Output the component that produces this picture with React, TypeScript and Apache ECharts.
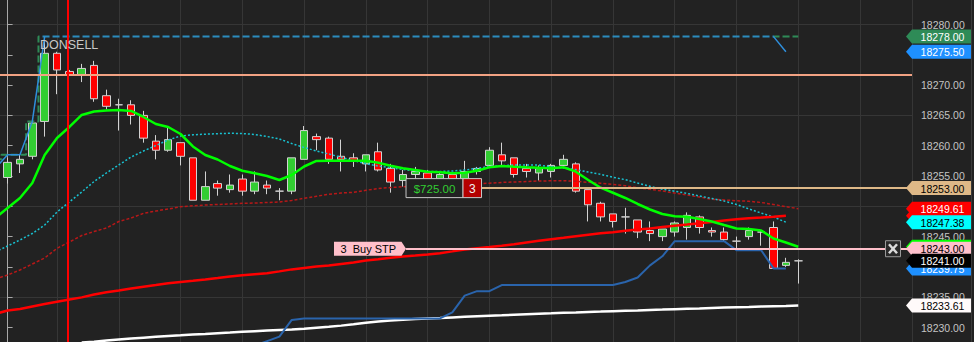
import React, { useEffect, useRef } from "react";
import * as echarts from "echarts";

const W = 974;
const H = 342;
const FONT = "'Liberation Sans', Arial, Helvetica, sans-serif";

// ---------- Candles (bar index 0..64) ----------
const opens = [
  18254.75, 18257, 18258.25, 18264, 18275.25, 18272.25, 18271.75, 18273.25, 18268.25, 18266.75,
  18266.75, 18265, 18260.75, 18259.25, 18260.5, 18258, 18251, 18253.75, 18252.75, 18254.5,
  18252.5, 18253.5, 18252.5, 18252.5, 18257.75, 18261.5, 18261.25, 18258.25, 18258, 18257,
  18259, 18256.25, 18254.25, 18255.25, 18255.5, 18254.25, 18255.25, 18254.25, 18255.75, 18256.75,
  18258.5, 18258, 18256.25, 18255.5, 18255.75, 18256.75, 18257, 18252.75, 18250.5, 18248.75,
  18248.25, 18247.75, 18246, 18245, 18245.75, 18246.5, 18248.25, 18246, 18245.75, 18244.25,
  18245, 18245.75, 18246.5, 18240.25, 18241,
];
const closes = [
  18257.25, 18257.75, 18263.75, 18275.25, 18272.5, 18271.75, 18272.75, 18267.75, 18266.5, 18266.75,
  18265, 18261.25, 18259.25, 18261, 18258.25, 18251, 18253.25, 18253, 18253.5, 18252.5,
  18254, 18253, 18252.5, 18258, 18262.5, 18261, 18257.75, 18257.75, 18257.5, 18258.5,
  18256, 18254, 18255.25, 18255.75, 18254.25, 18255.25, 18254.25, 18255.75, 18256.25, 18259.25,
  18257.5, 18255.25, 18255.75, 18256.25, 18256.75, 18257.75, 18252.5, 18250.25, 18248.25, 18247.5,
  18248.25, 18245.75, 18245.5, 18246.25, 18247.25, 18248.5, 18246.5, 18245.75, 18244.5, 18244.25,
  18246, 18245.75, 18239.75, 18240.75, 18241,
];
const highs = [
  18258, 18258.5, 18264, 18278, 18275.5, 18272.5, 18273.5, 18274, 18269.25, 18267.75,
  18267.5, 18265.75, 18261.75, 18263, 18260.5, 18258, 18255.75, 18254.25, 18255.25, 18255.25,
  18255.75, 18254.25, 18253, 18258, 18263.25, 18262, 18261.5, 18261, 18258.75, 18258.5,
  18260.5, 18257, 18256, 18256.5, 18256, 18255.5, 18255.5, 18257.5, 18256.5, 18259.75,
  18260.5, 18258, 18257, 18256.75, 18257, 18258.5, 18257.25, 18252.75, 18250.75, 18248.75,
  18249.75, 18247.75, 18247.5, 18246.25, 18247.5, 18249, 18248.5, 18246.5, 18246.5, 18245,
  18246.5, 18246, 18247.5, 18241.5, 18241.25,
];
const lows = [
  18253.75, 18255.5, 18257.75, 18261.5, 18268.5, 18271.5, 18270.5, 18267.25, 18266, 18262.5,
  18263.5, 18260.5, 18257.75, 18259, 18256.75, 18251, 18251, 18251.75, 18252.25, 18251.75,
  18252, 18252, 18251, 18252, 18257.75, 18259.25, 18257, 18255.75, 18256.5, 18255.75,
  18255.75, 18252.25, 18253.25, 18254, 18253.5, 18253.5, 18253.5, 18253.5, 18255.25, 18256.5,
  18256.5, 18254.75, 18254.75, 18254.25, 18254.75, 18256.5, 18252.25, 18247.5, 18247.5, 18246.5,
  18245.5, 18244.75, 18244.25, 18244.25, 18245, 18244.5, 18245.5, 18245, 18244.25, 18242.75,
  18244.5, 18243.5, 18239.75, 18240, 18237.25,
];

// ---------- Indicators (first value at bar index -1) ----------
const IND_START = -1;
const fastMa = [
  18248.07,
  18249.72, 18251.37, 18253.84, 18258.47, 18261.27, 18263.09, 18265.07, 18265.64, 18265.81, 18265.89,
  18265.73, 18264.74, 18263.58, 18263.09, 18261.93, 18259.87, 18258.47, 18257.72, 18256.65, 18255.87,
  18255.45, 18255.0, 18254.34, 18255.17, 18256.57, 18257.48, 18257.52, 18257.52, 18257.52, 18257.52,
  18257.2, 18256.7, 18256.27, 18255.99, 18255.71, 18255.61, 18255.45, 18255.54, 18255.87, 18256.44,
  18256.65, 18256.53, 18256.44, 18256.37, 18256.27, 18256.44, 18255.71, 18254.34, 18253.07, 18252.24,
  18251.37, 18250.38, 18249.47, 18248.73, 18248.35, 18248.27, 18247.9, 18247.49, 18246.91, 18246.34,
  18246.25, 18246.01, 18244.69, 18244.03, 18243.33,
];
const slowMa = [
  18242.46,
  18243.45, 18244.44, 18245.51, 18246.91, 18249.06, 18250.71, 18252.36, 18254.09, 18255.5, 18256.82,
  18258.14, 18259.13, 18260.03, 18260.94, 18261.6, 18261.8, 18261.9, 18261.98, 18262.05, 18262.01,
  18261.85, 18261.52, 18261.11, 18260.36, 18259.7, 18259.13, 18258.63, 18258.09, 18257.52, 18257.03,
  18256.65, 18256.37, 18256.07, 18255.87, 18255.76, 18255.74, 18255.83, 18255.99, 18256.27, 18256.57,
  18256.68, 18256.82, 18256.82, 18256.82, 18256.49, 18256.34, 18256.06, 18255.66, 18255.28, 18254.79,
  18254.39, 18253.84, 18253.3, 18252.82, 18252.49, 18252.13, 18251.7, 18251.29, 18250.87, 18250.3,
  18249.57, 18248.89, 18248.23, 18247.38,
];
const midMa = [
  18238.0,
  18238.66, 18239.49, 18240.48, 18241.47, 18243.07, 18244.11, 18245.18, 18245.84, 18246.42, 18247.49,
  18248.07, 18248.84, 18249.22, 18249.55, 18249.93, 18250.08, 18250.21, 18250.3, 18250.38, 18250.5,
  18250.54, 18250.63, 18250.71, 18250.96, 18251.32, 18251.65, 18251.98, 18252.19, 18252.31, 18252.64,
  18252.94, 18253.1, 18253.23, 18253.35, 18253.43, 18253.51, 18253.56, 18253.66, 18253.73, 18253.81,
  18253.94, 18254.01, 18254.09, 18254.17, 18254.21, 18254.22, 18254.13, 18253.96, 18253.8, 18253.6,
  18253.4, 18253.05, 18252.81, 18252.52, 18252.19, 18251.86, 18251.53, 18251.17, 18251.04, 18250.92,
  18250.83, 18250.63, 18250.3, 18249.93, 18249.61,
];
const longRedMa = [
  18232.23,
  18232.81, 18233.05, 18233.47, 18233.88, 18234.26, 18234.62, 18234.97, 18235.43, 18235.81, 18236.11,
  18236.42, 18236.72, 18237.01, 18237.31, 18237.52, 18237.72, 18237.94, 18238.17, 18238.43, 18238.63,
  18238.8, 18238.94, 18239.26, 18239.59, 18239.82, 18240.05, 18240.23, 18240.48, 18240.73, 18241.06,
  18241.25, 18241.5, 18241.73, 18241.88, 18242.06, 18242.26, 18242.56, 18242.87, 18243.09, 18243.27,
  18243.48, 18243.75, 18244.03, 18244.31, 18244.57, 18244.8, 18245.05, 18245.3, 18245.54, 18245.73,
  18245.96, 18246.16, 18246.34, 18246.57, 18246.8, 18247.0, 18247.21, 18247.41, 18247.64, 18247.85,
  18248.02, 18248.14, 18248.28, 18248.45,
];
const WHITE_START = 6;
const whiteMa = [
  18227.51, 18227.66, 18227.84, 18228.02,
  18228.17, 18228.32, 18228.47, 18228.6, 18228.71, 18228.83, 18228.94, 18229.06, 18229.17, 18229.29,
  18229.39, 18229.49, 18229.59, 18229.69, 18229.8, 18229.97, 18230.12, 18230.31, 18230.54, 18230.78,
  18230.99, 18231.14, 18231.27, 18231.39, 18231.49, 18231.57, 18231.67, 18231.77, 18231.85, 18231.93,
  18232.01, 18232.1, 18232.18, 18232.26, 18232.34, 18232.43, 18232.49, 18232.56, 18232.62, 18232.69,
  18232.76, 18232.82, 18232.89, 18232.95, 18233.02, 18233.09, 18233.15, 18233.22, 18233.28, 18233.33,
  18233.38, 18233.45, 18233.5, 18233.55, 18233.61,
];
const DON_LOW_START = 19;
const donLow = [
  18226.75,
  18227.0, 18227.75, 18228.5, 18231.25, 18231.5, 18231.5, 18231.5, 18231.5, 18231.5, 18231.5,
  18231.5, 18231.5, 18231.5, 18231.5, 18231.5, 18231.5, 18232.5, 18235.25, 18236, 18236,
  18237, 18237, 18237, 18237, 18237, 18237, 18237, 18237, 18237, 18237,
  18237.5, 18238.25, 18240.25, 18241.75, 18244.25, 18244.25, 18244.25, 18244.25, 18244.25, 18242.75,
  18242.75, 18242.75, 18239.75, 18239.75,
];
// Donchian upper, drawn as a thin line (bar -1..63)
const donUpper = [
  18256.25,
  18258.5, 18258.5, 18264, 18278, 18278, 18278, 18278, 18278, 18278, 18278,
  18278, 18278, 18278, 18278, 18278, 18278, 18278, 18278, 18278, 18278,
  18278, 18278, 18278, 18278, 18278, 18278, 18278, 18278, 18278, 18278,
  18278, 18278, 18278, 18278, 18278, 18278, 18278, 18278, 18278, 18278,
  18278, 18278, 18278, 18278, 18278, 18278, 18278, 18278, 18278, 18278,
  18278, 18278, 18278, 18278, 18278, 18278, 18278, 18278, 18278, 18278,
  18278, 18278, 18278, 18275.5,
];
// Donchian upper, dashed step channel (bar -1..64)
const donStep = [
  18257.75,
  18258.5, 18258.5, 18264, 18278, 18278, 18278, 18278, 18278, 18278, 18278,
  18278, 18278, 18278, 18278, 18278, 18278, 18278, 18278, 18278, 18278,
  18278, 18278, 18278, 18278, 18278, 18278, 18278, 18278, 18278, 18278,
  18278, 18278, 18278, 18278, 18278, 18278, 18278, 18278, 18278, 18278,
  18278, 18278, 18278, 18278, 18278, 18278, 18278, 18278, 18278, 18278,
  18278, 18278, 18278, 18278, 18278, 18278, 18278, 18278, 18278, 18278,
  18278, 18278, 18278, 18278, 18278,
];

// ---------- Levels / annotations ----------
const resistanceLevel = 18271.75;
const targetLevel = 18253;
const stopLevel = 18243;
const lastPrice = 18241;
const orderAnchorIndex = 32.25;
const timeMarkerIndex = 4.9;
const signalText = "DONSELL";
const signalIndex = 2.62;
const signalPrice = 18276.55;
const profitText = "$725.00";
const orderQty = "3";
const stopText = "3  Buy STP";

const X_MIN = -1;
const X_MAX = 73.207;
const Y_MIN = 18225;
const Y_MAX = 18285;

const last = (a: number[]) => a[a.length - 1];

// price tags at the axis, in drawing order (later ones cover earlier ones)
const tags = [
  { value: last(donStep), bg: "#2e8b57", fg: "#ffffff", text: true },
  { value: last(donUpper), bg: "#1e90ff", fg: "#ffffff", text: true },
  { value: targetLevel, bg: "#deb887", fg: "#000000", text: true },
  { value: last(longRedMa), bg: "#ff0000", fg: "#ffffff", text: false },
  { value: last(midMa), bg: "#ff0000", fg: "#ffffff", text: true },
  { value: last(slowMa), bg: "#00ffff", fg: "#000000", text: true },
  { value: last(fastMa), bg: "#00ff00", fg: "#000000", text: false },
  { value: stopLevel, bg: "#ffc0cb", fg: "#000000", text: true },
  { value: last(donLow), bg: "#1e90ff", fg: "#ffffff", text: true },
  { value: lastPrice, bg: "#000000", fg: "#ffffff", text: true },
  { value: last(whiteMa), bg: "#fffafa", fg: "#000000", text: true },
];

const pairs = (start: number, vals: (number | string)[]) =>
  vals.map((v, k) => [start + k, v]);

function buildOption(): any {
  const candleData = opens.map((o, i) => [i, o, closes[i], lows[i], highs[i]]);

  const segVisible = (a: number) => {
    if (a < 0 || a + 1 >= donUpper.length) return false;
    const flatOnTop =
      donUpper[a] === donUpper[a + 1] &&
      donUpper[a] === donStep[a] &&
      donUpper[a + 1] === donStep[a + 1];
    return !flatOnTop;
  };
  const upperSolid = donUpper.map((v, k) =>
    segVisible(k - 1) || segVisible(k) ? v : "-"
  );

  // axis labels that sit completely under a price tag are not drawn
  const coveredByTag = (v: number) => tags.some((t) => Math.abs(t.value - v) < 0.6);

  const lineBase = {
    type: "line",
    showSymbol: false,
    symbol: "none",
    silent: true,
    clip: true,
    animation: false,
  };

  return {
    animation: false,
    backgroundColor: "#222222",
    grid: {
      left: -4.754,
      right: 62,
      top: -5.8,
      bottom: -15.8,
      containLabel: false,
      outerBoundsMode: "none",
    },
    xAxis: {
      type: "value",
      min: X_MIN,
      max: X_MAX,
      interval: 5,
      axisLine: { show: false },
      axisTick: { show: false },
      axisLabel: { show: false },
      splitLine: { show: true, lineStyle: { color: "#363636", width: 1 } },
    },
    yAxis: {
      type: "value",
      position: "right",
      min: Y_MIN,
      max: Y_MAX,
      interval: 5,
      scale: true,
      axisLine: { show: true, lineStyle: { color: "#a8a8a8", width: 1 } },
      axisTick: { show: true, length: 5, lineStyle: { color: "#a8a8a8" } },
      axisLabel: {
        color: "#c4c4c4",
        fontSize: 10.5,
        fontFamily: FONT,
        margin: 9,
        showMinLabel: false,
        showMaxLabel: false,
        formatter: (v: number) => (coveredByTag(v) ? "" : v.toFixed(2)),
      },
      splitLine: {
        show: true,
        lineStyle: { color: ["rgba(0,0,0,0)", "rgba(0,0,0,0)", "#363636"], width: 1 },
      },
    },
    visualMap: [
      {
        type: "piecewise",
        show: false,
        seriesIndex: 6,
        dimension: 0,
        pieces: [
          { lt: 2.6, color: "#2e8b57" },
          { gte: 2.6, lt: 62, color: "#2b8cbe" },
          { gte: 62, color: "#2e8b57" },
        ],
      },
    ],
    series: [
      {
        type: "candlestick",
        data: candleData,
        barWidth: 8,
        silent: true,
        clip: true,
        itemStyle: {
          color: "#32cd32",
          color0: "#ff0000",
          borderColor: "#d2d2d2",
          borderColor0: "#d2d2d2",
          borderColorDoji: "#d2d2d2",
          borderWidth: 1,
        },
        markLine: {
          silent: true,
          symbol: "none",
          animation: false,
          label: { show: false },
          lineStyle: { type: "solid" },
          data: [
            { yAxis: resistanceLevel, lineStyle: { color: "#f2a283", width: 2, type: "solid" } },
            [
              { coord: [orderAnchorIndex, targetLevel], lineStyle: { color: "#deb887", width: 2, type: "solid" } },
              { coord: [X_MAX, targetLevel] },
            ],
            [
              { coord: [orderAnchorIndex, stopLevel], lineStyle: { color: "#ffc0cb", width: 2, type: "solid" } },
              { coord: [X_MAX, stopLevel] },
            ],
            { xAxis: timeMarkerIndex, lineStyle: { color: "#ff0000", width: 2, type: "solid" } },
          ],
        },
      },
      {
        ...lineBase,
        data: pairs(IND_START, midMa),
        lineStyle: { color: "#b81818", width: 1.5, type: [3, 2] },
      },
      {
        ...lineBase,
        data: pairs(IND_START, slowMa),
        lineStyle: { color: "#18c2d2", width: 1.5, type: [2, 2] },
      },
      {
        ...lineBase,
        data: pairs(WHITE_START, whiteMa),
        lineStyle: { color: "#ffffff", width: 2.5 },
      },
      {
        ...lineBase,
        data: pairs(IND_START, longRedMa),
        lineStyle: { color: "#ff0000", width: 2.5 },
      },
      {
        ...lineBase,
        data: pairs(DON_LOW_START, donLow),
        lineStyle: { color: "#2a64ac", width: 2 },
      },
      {
        ...lineBase,
        step: "middle",
        data: pairs(IND_START, donStep),
        lineStyle: { width: 2, type: [7, 3] },
      },
      {
        ...lineBase,
        connectNulls: false,
        data: pairs(IND_START, upperSolid),
        lineStyle: { color: "#2f8fdc", width: 1.5 },
      },
      {
        ...lineBase,
        data: pairs(IND_START, fastMa),
        lineStyle: { color: "#00ff00", width: 2.5 },
      },
    ],
  };
}

export default function App() {
  const ref = useRef<HTMLDivElement>(null);

  useEffect(() => {
    const el = ref.current;
    if (!el) return;
    const chart = echarts.init(el, undefined, { renderer: "svg", width: W, height: H });
    chart.setOption(buildOption());

    const toPx = (x: number, y: number) =>
      chart.convertToPixel({ gridIndex: 0 } as any, [x, y]) as number[];
    const axisX = toPx(X_MAX, Y_MIN)[0];
    const els: any[] = [];
    let z2 = 0;
    const add = (e: any) => {
      els.push({ z: 100, z2: z2++, silent: true, ...e });
    };

    // signal label
    const [sx, sy] = toPx(signalIndex, signalPrice);
    add({
      type: "text",
      style: {
        text: signalText, x: sx, y: sy, align: "left", verticalAlign: "middle",
        fill: "#c8c8c8", fontSize: 12.5, fontFamily: FONT,
      },
    });

    // order markers
    const [ax, stopY] = toPx(orderAnchorIndex, stopLevel);
    const targetY = toPx(orderAnchorIndex, targetLevel)[1];
    add({
      type: "polygon",
      shape: {
        points: [
          [ax - 72, stopY - 7], [ax - 4.5, stopY - 7], [ax, stopY],
          [ax - 4.5, stopY + 7], [ax - 72, stopY + 7],
        ],
      },
      style: { fill: "#ffc0cb" },
    });
    add({
      type: "text",
      style: {
        text: stopText, x: ax - 65.5, y: stopY + 0.5, align: "left", verticalAlign: "middle",
        fill: "#000000", fontSize: 11, fontFamily: FONT,
      },
    });
    add({
      type: "rect",
      shape: { x: ax, y: targetY - 9.5, width: 57, height: 19 },
      style: { fill: "#222222", stroke: "#c8c8c8", lineWidth: 1 },
    });
    add({
      type: "rect",
      shape: { x: ax + 57, y: targetY - 9.5, width: 18.5, height: 19 },
      style: { fill: "#b40000", stroke: "#c8c8c8", lineWidth: 1 },
    });
    add({
      type: "text",
      style: {
        text: profitText, x: ax + 28.5, y: targetY + 0.5, align: "center", verticalAlign: "middle",
        fill: "#32cd32", fontSize: 11.5, fontFamily: FONT,
      },
    });
    add({
      type: "text",
      style: {
        text: orderQty, x: ax + 66.25, y: targetY + 0.5, align: "center", verticalAlign: "middle",
        fill: "#f0f0f0", fontSize: 12, fontFamily: FONT,
      },
    });

    // cancel box on stop line
    add({
      type: "rect",
      shape: { x: axisX - 26.5, y: stopY - 8, width: 15, height: 16 },
      style: { fill: "#2a2a2a", stroke: "#9a9a9a", lineWidth: 1 },
    });
    add({
      type: "line",
      shape: { x1: axisX - 23, y1: stopY - 4.5, x2: axisX - 15, y2: stopY + 4.5 },
      style: { stroke: "#dcdcdc", lineWidth: 2.5 },
    });
    add({
      type: "line",
      shape: { x1: axisX - 15, y1: stopY - 4.5, x2: axisX - 23, y2: stopY + 4.5 },
      style: { stroke: "#dcdcdc", lineWidth: 2.5 },
    });

    // price tags on the axis
    tags.forEach((t) => {
      const y = toPx(X_MAX, t.value)[1];
      add({
        type: "polygon",
        shape: {
          points: [
            [axisX - 6, y], [axisX, y - 7], [axisX + 59, y - 7],
            [axisX + 59, y + 7], [axisX, y + 7],
          ],
        },
        style: { fill: t.bg },
      });
      if (t.text) {
        add({
          type: "text",
          style: {
            text: t.value.toFixed(2), x: axisX + 30.5, y: y + 0.5, align: "center",
            verticalAlign: "middle", fill: t.fg, fontSize: 10.5, fontFamily: FONT,
          },
        });
      }
    });

    // right border
    add({
      type: "line",
      shape: { x1: 971.5, y1: 0, x2: 971.5, y2: H },
      style: { stroke: "#3a3a3a", lineWidth: 1 },
    });

    chart.setOption({ graphic: { elements: els } });

    return () => {
      chart.dispose();
    };
  }, []);

  return (
    <div
      ref={ref}
      style={{ position: "fixed", left: 0, top: 0, width: W, height: H, background: "#222222" }}
    />
  );
}
